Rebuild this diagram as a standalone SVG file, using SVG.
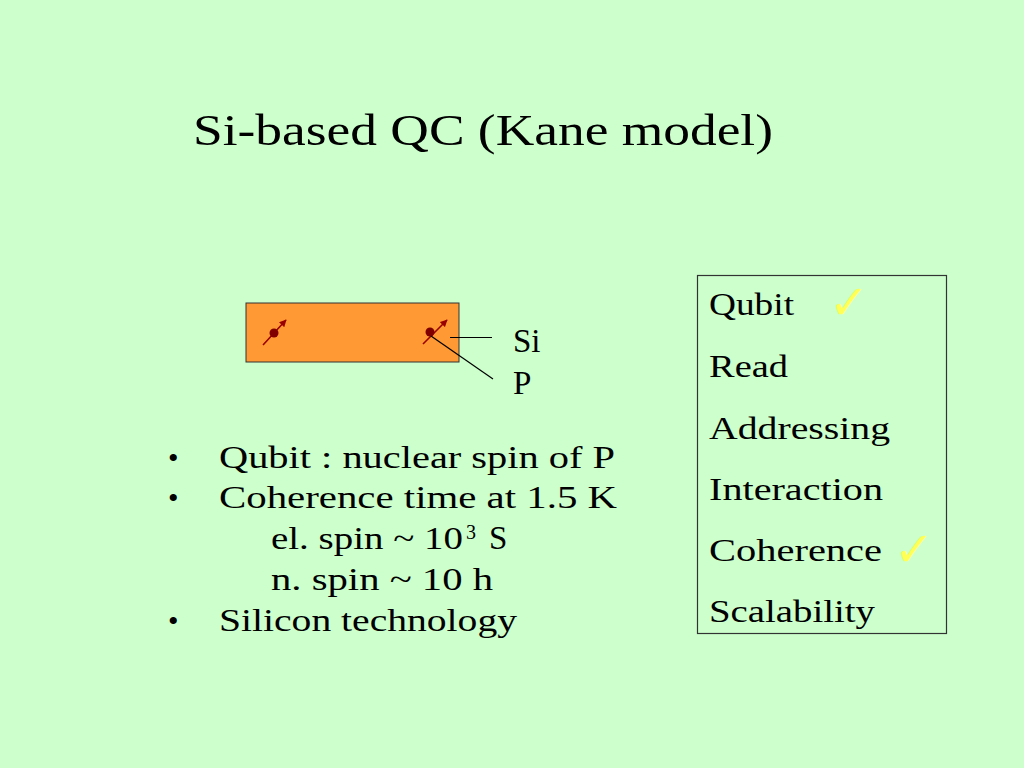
<svg xmlns="http://www.w3.org/2000/svg" width="1024" height="768" viewBox="0 0 1024 768">
<defs>
<style>
.t{font-family:"Liberation Serif","DejaVu Serif",serif;fill:#000;}
.chk{font-family:"DejaVu Sans",sans-serif;fill:#FFFF55;font-size:48px;font-weight:bold;}
.spin{stroke:#990000;stroke-width:1.6;fill:none;}
.lead{stroke:#000;stroke-width:1.2;fill:none;}
</style>
<marker id="ah" viewBox="0 0 10 10" refX="9" refY="5" markerWidth="4.5" markerHeight="4.5" orient="auto">
<path d="M0,0 L10,5 L0,10 z" fill="#990000"/>
</marker>
</defs>
<rect width="1024" height="768" fill="#CCFFCC"/>
<g id="title">
<text class="t" x="193" y="145" font-size="44" textLength="580" lengthAdjust="spacingAndGlyphs">Si-based QC (Kane model)</text>
</g>
<g id="silicon">
<rect x="246" y="303" width="213" height="59" fill="#FF9933" stroke="#333" stroke-width="1"/>
</g>
<g id="spin1">
<line class="spin" x1="263" y1="345" x2="286" y2="320" marker-end="url(#ah)"/>
<circle cx="274" cy="333" r="4.5" fill="#800000"/>
</g>
<g id="spin2">
<line class="spin" x1="423" y1="344" x2="447" y2="320" marker-end="url(#ah)"/>
<circle cx="430" cy="332" r="4.5" fill="#800000"/>
</g>
<g id="connectors">
<line class="lead" x1="450" y1="337.5" x2="492" y2="337.5"/>
<line class="lead" x1="431" y1="336" x2="493" y2="379"/>
</g>
<g id="label-si"><text class="t" x="513" y="352" font-size="33">Si</text></g>
<g id="label-p"><text class="t" x="513" y="394" font-size="33">P</text></g>
<g id="bullets">
<text class="t" x="168" y="468" font-size="30">•</text>
<text class="t" x="219" y="468" font-size="32" textLength="396" lengthAdjust="spacingAndGlyphs">Qubit : nuclear spin of P</text>
<text class="t" x="168" y="508" font-size="30">•</text>
<text class="t" x="219" y="508" font-size="32" textLength="398" lengthAdjust="spacingAndGlyphs">Coherence time at 1.5 K</text>
<text class="t" x="271" y="549" font-size="32" textLength="192" lengthAdjust="spacingAndGlyphs">el. spin ~ 10</text>
<text class="t" x="466" y="539" font-size="20">3</text>
<text class="t" x="489" y="549" font-size="33">S</text>
<text class="t" x="271" y="590" font-size="32" textLength="222" lengthAdjust="spacingAndGlyphs">n. spin ~ 10 h</text>
<text class="t" x="168" y="631" font-size="30">•</text>
<text class="t" x="219" y="631" font-size="32" textLength="298" lengthAdjust="spacingAndGlyphs">Silicon technology</text>
</g>
<g id="checklist">
<rect x="697.5" y="275.5" width="249" height="358" fill="none" stroke="#333" stroke-width="1.2"/>
<text class="t" x="709" y="315" font-size="32" textLength="85" lengthAdjust="spacingAndGlyphs">Qubit</text>
<text class="t" x="709" y="377" font-size="32" textLength="79" lengthAdjust="spacingAndGlyphs">Read</text>
<text class="t" x="709" y="439" font-size="32" textLength="181" lengthAdjust="spacingAndGlyphs">Addressing</text>
<text class="t" x="709" y="500" font-size="32" textLength="174" lengthAdjust="spacingAndGlyphs">Interaction</text>
<text class="t" x="709" y="561" font-size="32" textLength="173" lengthAdjust="spacingAndGlyphs">Coherence</text>
<text class="t" x="709" y="622" font-size="32" textLength="166" lengthAdjust="spacingAndGlyphs">Scalability</text>
<text class="chk" x="829" y="319">✓</text>
<text class="chk" x="894" y="566">✓</text>
</g>
</svg>
